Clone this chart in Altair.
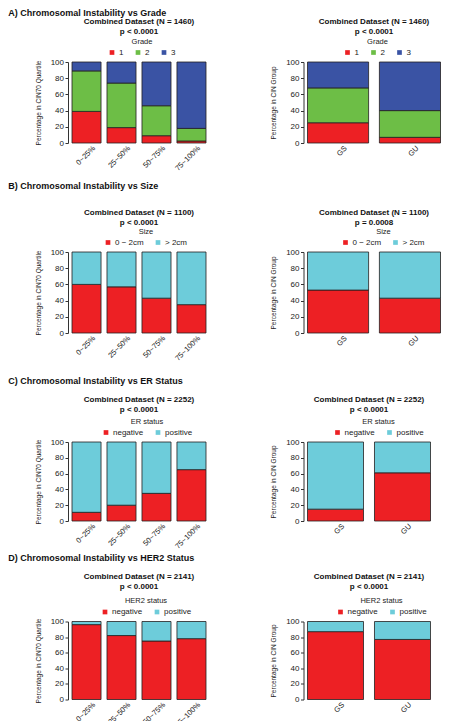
import altair as alt
import pandas as pd

FONT = "Liberation Sans"

# ---------------- data ----------------
quartiles = ["0~25%", "25~50%", "50~75%", "75~100%"]
groups = ["GS", "GU"]

grade_levels = ["1", "2", "3"]
grade_colors = ["#ed2024", "#6dbe46", "#3a53a4"]
grade_q_1 = [39, 19, 9, 2.5]
grade_q_2 = [50, 55, 37, 15.5]
grade_q_3 = [11, 26, 54, 82]
grade_g_1 = [25, 7]
grade_g_2 = [43, 33]
grade_g_3 = [32, 60]

size_levels = ["0 \u2212 2cm", "> 2cm"]
size_q_small = [60, 57, 43, 35]
size_q_large = [40, 43, 57, 65]
size_g_small = [53, 43]
size_g_large = [47, 57]

status_levels = ["negative", "positive"]
two_colors = ["#ed2024", "#6dccda"]
er_q_neg = [11, 20, 35, 65]
er_q_pos = [89, 80, 65, 35]
er_g_neg = [15, 61]
er_g_pos = [85, 39]

her2_q_neg = [96, 82, 75, 78]
her2_q_pos = [4, 18, 25, 22]
her2_g_neg = [87, 77]
her2_g_pos = [13, 23]


def panel(cats, levels, series, colors, title_lines, legend_title, ytitle,
          w, h, legend_x, pad_in, title_offset):
    rows = []
    for ci, c in enumerate(cats):
        for li, lev in enumerate(levels):
            rows.append({"cat": c, "level": lev, "idx": li, "value": series[li][ci]})
    df = pd.DataFrame(rows)
    return alt.Chart(df).mark_bar(stroke="#231f20", strokeWidth=0.8).encode(
        x=alt.X("cat:N", sort=cats, title=None,
                scale=alt.Scale(paddingInner=pad_in, paddingOuter=0),
                axis=alt.Axis(labelAngle=-45, labelAlign="right", labelBaseline="top",
                              labelFontSize=7.5, labelPadding=1, labelOffset=5,
                              domain=False, ticks=False, labelColor="#222")),
        y=alt.Y("value:Q", stack="zero", title=ytitle,
                scale=alt.Scale(domain=[0, 100], nice=False),
                axis=alt.Axis(values=[0, 20, 40, 60, 80, 100], grid=False, offset=4,
                              domainColor="#333", tickColor="#333", tickSize=3,
                              labelFontSize=8, labelPadding=1.5, labelColor="#222",
                              titleFontSize=6.5, titleFontWeight="normal",
                              titlePadding=9, titleColor="#222")),
        color=alt.Color("level:N", sort=levels,
                        scale=alt.Scale(domain=levels, range=colors),
                        legend=alt.Legend(orient="none", legendX=legend_x, legendY=-24.5,
                                          direction="horizontal", title=legend_title,
                                          titleAnchor="middle", titleFontSize=7.5,
                                          titleFontWeight="normal", titlePadding=3.5,
                                          titleColor="#222",
                                          labelFontSize=8, labelColor="#222",
                                          symbolType="square", symbolSize=22,
                                          symbolStrokeWidth=0, labelOffset=3,
                                          columnPadding=10)),
        order=alt.Order("idx:Q", sort="ascending"),
    ).properties(
        width=w, height=h,
        title=alt.TitleParams(title_lines, fontSize=8, fontWeight="bold", lineHeight=10,
                              frame="group", anchor="middle", offset=title_offset,
                              color="#111"),
    )


def indep(c):
    return c.resolve_scale(color="independent").resolve_legend(color="independent")


def row(label, left, right, offset):
    return indep(alt.hconcat(left, right, spacing=63.5).properties(
        title=alt.TitleParams(label, anchor="start", fontSize=9, fontWeight="bold",
                              dx=-27, offset=offset, color="#111")))


YQ = "Percentage in CIN70 Quartile"
YG = "Percentage in CIN Group"

rowA = row("A) Chromosomal Instability vs Grade",
           panel(quartiles, grade_levels, [grade_q_1, grade_q_2, grade_q_3], grade_colors,
                 ["Combined Dataset (N = 1460)", "p < 0.0001"], "Grade", YQ,
                 134, 81, 36, 0.17, 2),
           panel(groups, grade_levels, [grade_g_1, grade_g_2, grade_g_3], grade_colors,
                 ["Combined Dataset (N = 1460)", "p < 0.0001"], "Grade", YG,
                 133, 81, 36, 0.15, 2),
           0)

rowB = row("B) Chromosomal Instability vs Size",
           panel(quartiles, size_levels, [size_q_small, size_q_large], two_colors,
                 ["Combined Dataset (N = 1100)", "p < 0.0001"], "Size", YQ,
                 134, 81, 32, 0.17, 0.5),
           panel(groups, size_levels, [size_g_small, size_g_large], two_colors,
                 ["Combined Dataset (N = 1100)", "p = 0.0008"], "Size", YG,
                 133, 81, 34, 0.15, 0.5),
           18.5)

rowC = row("C) Chromosomal Instability vs ER Status",
           panel(quartiles, status_levels, [er_q_neg, er_q_pos], two_colors,
                 ["Combined Dataset (N = 2252)", "p < 0.0001"], "ER status", YQ,
                 134, 79, 30, 0.17, 3.5),
           panel(groups, status_levels, [er_g_neg, er_g_pos], two_colors,
                 ["Combined Dataset (N = 2252)", "p < 0.0001"], "ER status", YG,
                 123, 79, 26, 0.164, 3.5),
           10.5)

rowD = row("D) Chromosomal Instability vs HER2 Status",
           panel(quartiles, status_levels, [her2_q_neg, her2_q_pos], two_colors,
                 ["Combined Dataset (N = 2141)", "p < 0.0001"], "HER2 status", YQ,
                 134, 78, 29, 0.17, 6.5),
           panel(groups, status_levels, [her2_g_neg, her2_g_pos], two_colors,
                 ["Combined Dataset (N = 2141)", "p < 0.0001"], "HER2 status", YG,
                 123, 78, 29, 0.164, 6.5),
           9.5)

top = indep(alt.vconcat(rowA, rowB, spacing=9))
bottom = indep(alt.vconcat(rowC, rowD, spacing=3.5))

chart = indep(alt.vconcat(top, bottom, spacing=14)).properties(
    padding={"left": 0, "top": 0, "right": 0, "bottom": 0}
).configure(font=FONT).configure_view(stroke=None)

chart.save("out.html", embed_options={"renderer": "svg", "actions": False})
